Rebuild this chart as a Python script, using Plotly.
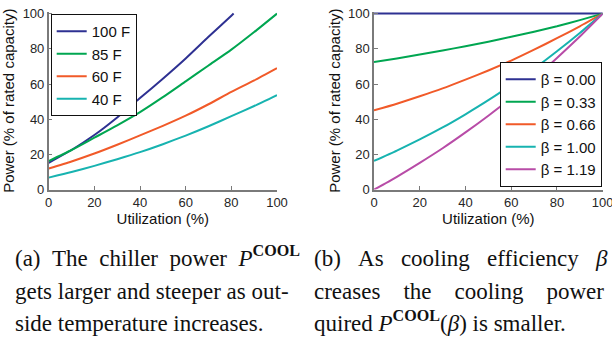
import plotly.graph_objects as go

# ---------------- data ----------------
util = [0, 10, 20, 30, 40, 50, 60, 70, 80, 90, 100]

temp_labels = ["100 F", "85 F", "60 F", "40 F"]
util_100f = [0, 10, 20, 30, 40, 50, 60, 70, 80, 81]
power_100f = [15.2, 22.5, 31.0, 41.0, 52.0, 63.0, 74.5, 86.8, 98.8, 100.0]
power_85f = [16.2, 22.5, 29.5, 36.5, 44.0, 52.5, 61.5, 70.5, 79.5, 89.5, 100.0]
power_60f = [12.0, 16.0, 20.5, 25.5, 30.8, 36.2, 42.0, 48.5, 55.5, 62.0, 69.0]
power_40f = [6.8, 10.0, 13.5, 17.3, 21.3, 25.8, 30.7, 36.0, 41.7, 47.5, 53.7]

beta_labels = ["β = 0.00", "β = 0.33", "β = 0.66", "β = 1.00", "β = 1.19"]
power_b000 = [100, 100, 100, 100, 100, 100, 100, 100, 100, 100, 100]
power_b033 = [72.5, 74.5, 76.7, 79.0, 81.5, 84.0, 86.8, 89.7, 92.8, 96.3, 100.0]
power_b066 = [45.0, 48.8, 53.0, 57.5, 62.5, 67.7, 73.3, 79.5, 86.0, 92.8, 100.0]
power_b100 = [16.3, 22.2, 28.5, 35.3, 42.8, 50.8, 59.5, 68.7, 78.6, 89.0, 100.0]
power_b119 = [0.0, 7.3, 15.2, 23.5, 32.5, 42.0, 52.0, 63.0, 74.8, 87.0, 100.0]

tick_vals = [0, 20, 40, 60, 80, 100]

# ---------------- styles ----------------
BLUE, GREEN, RED, CYAN, MAG = "#2e3192", "#00a651", "#f15a29", "#17b3b0", "#b84ca7"
SANS = "Liberation Sans, Arial, Helvetica, sans-serif"
SERIF = "Liberation Serif, Times New Roman, serif"
W, H = 612, 338

fig = go.Figure()

left_series = [
    (temp_labels[0], util_100f, power_100f, BLUE),
    (temp_labels[1], util, power_85f, GREEN),
    (temp_labels[2], util, power_60f, RED),
    (temp_labels[3], util, power_40f, CYAN),
]
for name, xs, ys, col in left_series:
    fig.add_trace(go.Scatter(x=xs, y=ys, name=name, mode="lines",
                             line=dict(color=col, width=2, shape="spline", smoothing=0.6),
                             xaxis="x", yaxis="y", legend="legend"))

right_series = [
    (beta_labels[0], power_b000, BLUE),
    (beta_labels[1], power_b033, GREEN),
    (beta_labels[2], power_b066, RED),
    (beta_labels[3], power_b100, CYAN),
    (beta_labels[4], power_b119, MAG),
]
for name, ys, col in right_series:
    fig.add_trace(go.Scatter(x=util, y=ys, name=name, mode="lines",
                             line=dict(color=col, width=2, shape="spline", smoothing=0.6),
                             xaxis="x2", yaxis="y2", legend="legend2"))

axis_common = dict(showline=True, linecolor="#7a7a7a", linewidth=1.5, mirror=False,
                   ticks="inside", ticklen=4, tickwidth=1, tickcolor="#7a7a7a",
                   showgrid=False, zeroline=False, tickvals=tick_vals, automargin=False,
                   ticklabeloverflow="allow",
                   tickfont=dict(family=SANS, size=13, color="#262626"))
title_font = dict(family=SANS, size=15, color="#111111")

ydom = [0.439, 0.965]
fig.update_layout(
    width=W, height=H, autosize=False,
    margin=dict(l=0, r=0, t=0, b=0),
    paper_bgcolor="white", plot_bgcolor="white",
    xaxis=dict(domain=[48.7 / W, 277 / W], range=[0, 100], anchor="y",
               title=dict(text="Utilization (%)", font=title_font, standoff=2), **axis_common),
    yaxis=dict(domain=ydom, range=[0, 101], anchor="x",
               title=dict(text="Power (% of rated capacity)", font=title_font, standoff=4), **axis_common),
    xaxis2=dict(domain=[374 / W, 602.7 / W], range=[0, 100], anchor="y2",
                title=dict(text="Utilization (%)", font=title_font, standoff=2), **axis_common),
    yaxis2=dict(domain=ydom, range=[0, 101], anchor="x2",
                title=dict(text="Power (% of rated capacity)", font=title_font, standoff=4), **axis_common),
    legend=dict(x=50.7 / W, y=1 - 14 / H, xanchor="left", yanchor="top",
                bgcolor="white", bordercolor="#111111", borderwidth=1,
                font=dict(family=SANS, size=15, color="#111111"),
                tracegroupgap=0, itemwidth=30),
    legend2=dict(x=601.7 / W, y=1 - 187 / H, xanchor="right", yanchor="bottom",
                 bgcolor="white", bordercolor="#111111", borderwidth=1,
                 font=dict(family=SANS, size=15, color="#111111"),
                 tracegroupgap=0, itemwidth=30),
    showlegend=True,
)

NB = "\u00a0"
cap_font = dict(family=SERIF, size=23, color="#111111")
# (left x px, bottom y px of text box, text)
captions = [
    (12.7, 273, "(a) " + NB + "The " + NB + "chiller " + NB + "power " + NB + "<i>P</i><sup><b>COOL</b></sup>"),
    (12.7, 305.5, "gets larger and steeper as out-"),
    (12.7, 337.5, "side temperature increases."),
    (312, 273, "(b) " + NB * 2 + "As " + NB * 2 + "cooling " + NB * 2 + "efficiency " + NB * 2 + "<i>β</i>"),
    (312, 305.5, "creases " + NB * 3 + "the " + NB * 3 + "cooling " + NB * 3 + "power"),
    (312, 337.5, "quired <i>P</i><sup><b>COOL</b></sup>(<i>β</i>) is smaller."),
]
for px, py, txt in captions:
    fig.add_annotation(x=px / W, y=1 - py / H, xref="paper", yref="paper",
                       xanchor="left", yanchor="bottom", showarrow=False,
                       text=txt, font=cap_font, align="left")

fig.write_html("out.html", config={"displayModeBar": False},
               post_script="document.body.style.margin='0px';document.body.style.padding='0px';")
